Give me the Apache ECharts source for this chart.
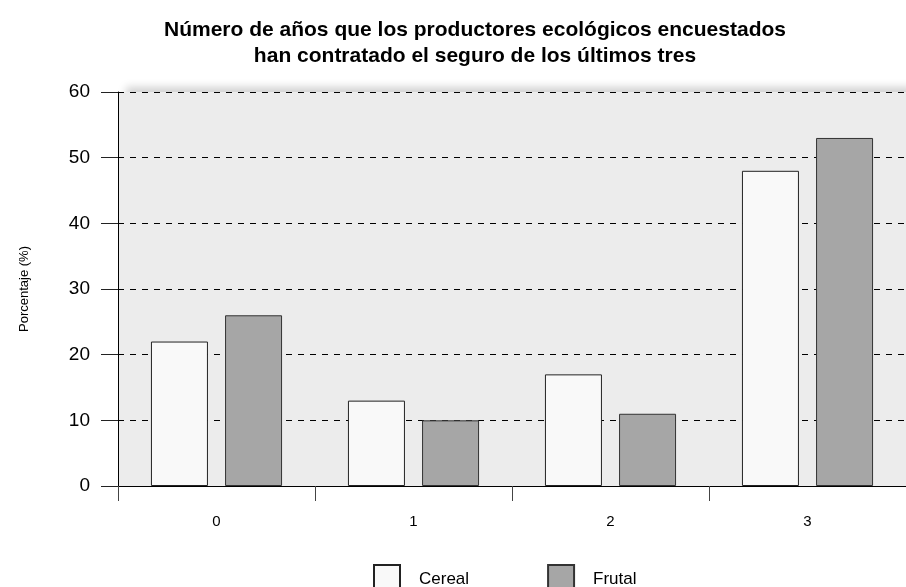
<!DOCTYPE html>
<html>
<head>
<meta charset="utf-8">
<script src="https://cdn.jsdelivr.net/npm/echarts@6/dist/echarts.min.js"></script>
<style>
  html, body { margin: 0; padding: 0; background: #fff; }
  #chart { width: 906px; height: 587px; }
</style>
</head>
<body>
<div id="chart"></div>
<script>
// 数据
const years = ['0', '1', '2', '3'];
const cereal = [22, 13, 17, 48];
const frutal = [26, 10, 11, 53];
const seriesNames = ['Cereal', 'Frutal'];

const chart = echarts.init(document.getElementById('chart'));
const font = 'Liberation Sans, Arial, sans-serif';

chart.setOption({
    animation: false,
    title: {
        text: 'Número de años que los productores ecológicos encuestados\nhan contratado el seguro de los últimos tres',
        left: 470,
        top: 12,
        textAlign: 'center',
        textStyle: { fontFamily: font, fontWeight: 'bold', fontSize: 21, lineHeight: 26, color: '#000' }
    },
    legend: {
        data: seriesNames,
        left: 368,
        top: 559,
        icon: 'rect',
        itemWidth: 26,
        itemHeight: 28,
        itemGap: 78,
        textStyle: { fontFamily: font, fontSize: 17, color: '#000', padding: [0, 0, 0, 14] }
    },
    grid: {
        left: 118,
        right: 0,
        top: 92,
        bottom: 101,
        show: true,
        backgroundColor: '#ececec',
        borderWidth: 0,
        shadowColor: 'rgba(0,0,0,0.18)',
        shadowBlur: 8,
        shadowOffsetX: 8,
        shadowOffsetY: -5
    },
    xAxis: {
        type: 'category',
        data: years,
        axisLine: { lineStyle: { color: '#000', width: 1 } },
        axisTick: { show: true, length: 15, lineStyle: { color: '#444' } },
        axisLabel: { fontFamily: font, fontSize: 15, color: '#000', margin: 28 }
    },
    yAxis: {
        type: 'value',
        min: 0,
        max: 60,
        interval: 10,
        name: 'Porcentaje (%)',
        nameLocation: 'middle',
        nameGap: 87,
        nameTextStyle: { fontFamily: font, fontSize: 13, color: '#000' },
        axisLine: { show: true, lineStyle: { color: '#000', width: 1 } },
        axisTick: { show: true, length: 17, lineStyle: { color: '#222' } },
        axisLabel: { fontFamily: font, fontSize: 19, color: '#000', margin: 28 },
        splitLine: { lineStyle: { type: [6, 6], color: '#000', width: 1 } }
    },
    series: [
        {
            name: seriesNames[0],
            type: 'bar',
            data: cereal,
            barWidth: 57,
            barGap: '30%',
            itemStyle: { color: '#f9f9f9', borderColor: '#222', borderWidth: 1 }
        },
        {
            name: seriesNames[1],
            type: 'bar',
            data: frutal,
            barWidth: 57,
            itemStyle: { color: '#a6a6a6', borderColor: '#333', borderWidth: 1 }
        }
    ]
});
</script>
</body>
</html>
